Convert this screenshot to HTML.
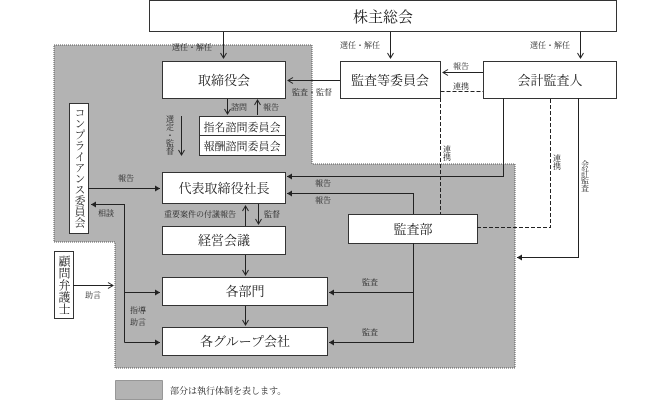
<!DOCTYPE html><html><head><meta charset="utf-8"><style>body{margin:0;background:#fff}svg{display:block}text{font-family:"Liberation Serif","Noto Serif CJK JP","Noto Serif CJK SC",serif;fill:#222}.b{font-size:13px}.s{font-size:8px}</style></head><body>
<svg width="670" height="402" viewBox="0 0 670 402">
<defs><marker id="a" markerWidth="8" markerHeight="8" refX="6" refY="4" orient="auto" markerUnits="userSpaceOnUse"><path d="M1,1 L6,4 L1,7" fill="none" stroke="#222" stroke-width="1"/></marker>
<marker id="t" markerWidth="6" markerHeight="6" refX="5" refY="3" orient="auto" markerUnits="userSpaceOnUse"><path d="M0,0 L5,3 L0,6z" fill="#222"/></marker></defs>
<polygon points="54,45 312,45 312,164 515,164 515,368 115,368 115,242 54,242" fill="#b3b3b3" stroke="#555" stroke-dasharray="1,1"/>
<g fill="#fff" stroke="#333" stroke-width="1">
<rect x="149.5" y="0.5" width="467" height="31"/>
<rect x="162.5" y="61.5" width="123" height="37"/>
<rect x="199.5" y="116.5" width="86" height="19"/><rect x="199.5" y="135.5" width="86" height="20"/>
<rect x="69.5" y="103.5" width="19" height="130"/>
<rect x="162.5" y="172.5" width="123" height="31"/>
<rect x="162.5" y="226.5" width="123" height="28"/>
<rect x="162.5" y="277.5" width="165" height="28"/>
<rect x="162.5" y="327.5" width="165" height="28"/>
<rect x="348.5" y="214.5" width="129" height="29"/>
<rect x="54.5" y="251.5" width="19" height="67"/>
<rect x="340.5" y="61.5" width="100" height="37"/>
<rect x="483.5" y="61.5" width="133" height="37"/>
</g>
<rect x="115.5" y="380.5" width="47" height="19" fill="#b3b3b3" stroke="#555" stroke-dasharray="1,1"/>
<g stroke="#222" fill="none" stroke-width="1">
<path d="M223.5,32 V58" marker-end="url(#a)"/><path d="M390.5,32 V58" marker-end="url(#a)"/><path d="M580.5,32 V58" marker-end="url(#a)"/>
<path d="M340,80.5 H288" marker-end="url(#a)"/>
<path d="M483,72.5 H443" marker-end="url(#a)"/>
<path d="M440.5,91.5 H483 M440.5,98 V214 M477,227.5 H550.5 V98" stroke-dasharray="4,2"/>
<path d="M503.5,98 V176.5 H287" marker-end="url(#t)"/>
<path d="M413.5,214 V193.5 H287" marker-end="url(#t)"/>
<path d="M578.5,98 V257.5 H517" marker-end="url(#t)"/>
<path d="M413.5,243 V342.5 H329" marker-end="url(#t)"/><path d="M413.5,292.5 H329" marker-end="url(#t)"/>
<path d="M227.5,99 V114" marker-end="url(#a)"/><path d="M257.5,115 V100" marker-end="url(#a)"/>
<path d="M181.5,116 V155" marker-end="url(#a)"/>
<path d="M88,188.5 H160" marker-end="url(#t)"/>
<path d="M124.5,342.5 V204.5 H91" marker-end="url(#t)"/>
<path d="M124.5,292.5 H160" marker-end="url(#t)"/><path d="M124.5,342.5 H160" marker-end="url(#t)"/>
<path d="M245.5,226 V206" marker-end="url(#a)"/><path d="M258.5,204 V224" marker-end="url(#a)"/>
<path d="M245.5,255 V275" marker-end="url(#a)"/><path d="M245.5,306 V325" marker-end="url(#a)"/>
<path d="M73,285.5 H113" marker-end="url(#a)"/>
</g>
<g text-anchor="middle" class="b">
<text x="383" y="22" style="font-size:15px">株主総会</text>
<text x="224" y="85">取締役会</text>
<text x="242" y="131" style="font-size:11px">指名諮問委員会</text>
<text x="242" y="150" style="font-size:11px">報酬諮問委員会</text>
<text x="224" y="193">代表取締役社長</text>
<text x="224" y="245">経営会議</text>
<text x="245" y="296">各部門</text>
<text x="245" y="346">各グループ会社</text>
<text x="413" y="234">監査部</text>
<text x="390" y="85">監査等委員会</text>
<text x="550" y="85">会計監査人</text>
</g>
<text style="writing-mode:vertical-rl;font-size:11px" x="79" y="107">コンプライアンス委員会</text>
<text style="writing-mode:vertical-rl;font-size:12px" x="64" y="255">顧問弁護士</text>
<g class="s">
<text x="172" y="50">選任・解任</text><text x="340" y="48">選任・解任</text><text x="530" y="48">選任・解任</text>
<text x="292" y="95">監査・監督</text>
<text x="453" y="69">報告</text><text x="453" y="89">連携</text>
<text x="231" y="110">諮問</text><text x="263" y="110">報告</text>
<text x="118" y="181">報告</text><text x="98" y="216">相談</text>
<text x="315" y="186">報告</text><text x="315" y="203">報告</text>
<text x="164" y="217">重要案件の付議報告</text><text x="264" y="217">監督</text>
<text x="362" y="285">監査</text><text x="362" y="335">監査</text>
<text x="85" y="298">助言</text>
<text x="130" y="313">指導</text><text x="130" y="325">助言</text>
<text x="170" y="394" style="font-size:9px">部分は執行体制を表します。</text>
</g>
<g class="s" style="writing-mode:vertical-rl">
<text x="170" y="115">選定・監督</text>
<text x="447" y="145">連携</text>
<text x="557" y="154">連携</text>
<text x="585" y="160">会計監査</text>
</g>
</svg></body></html>
